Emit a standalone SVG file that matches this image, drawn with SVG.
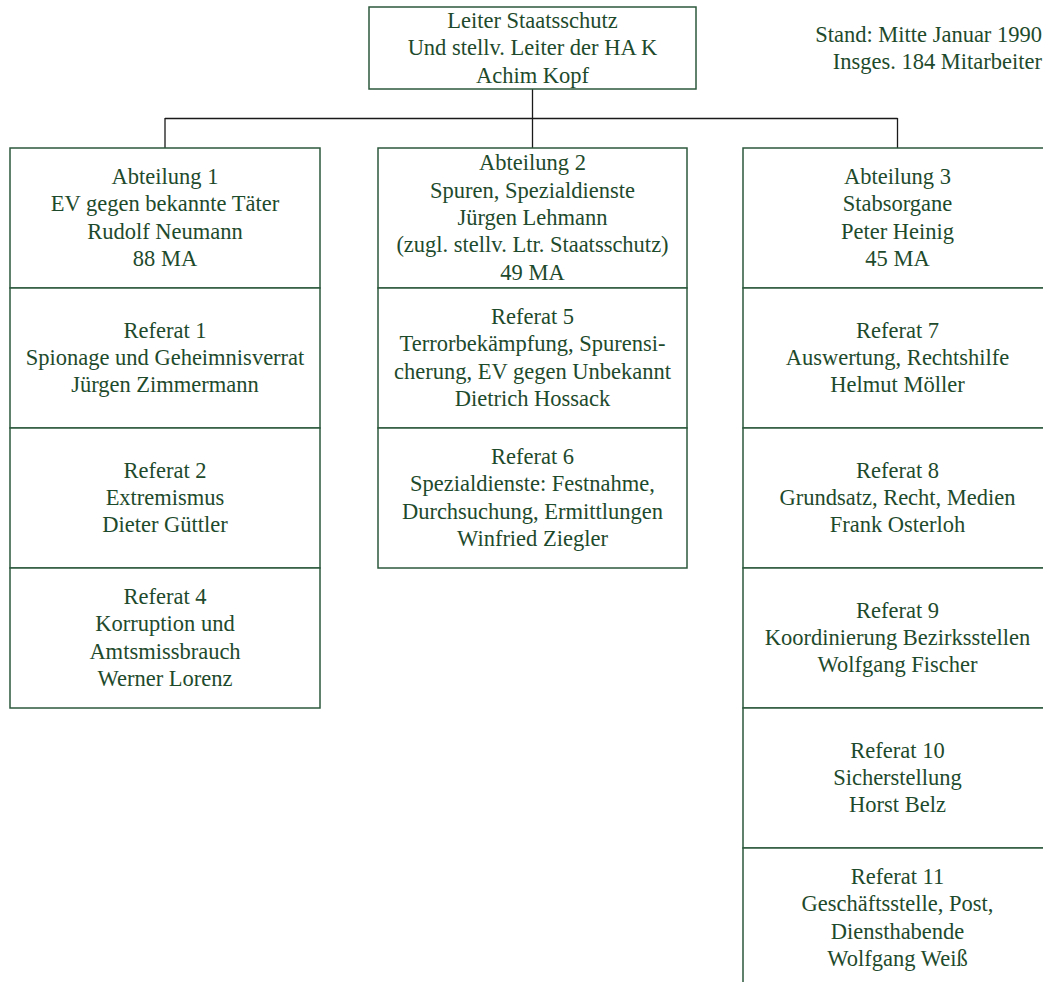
<svg xmlns="http://www.w3.org/2000/svg" width="1043" height="982" viewBox="0 0 1043 982">
<style>
rect.box{fill:#ffffff;stroke:#2d5a3c;stroke-width:1.5}
text{font-family:"Liberation Serif","Times New Roman",serif;font-size:22.5px;fill:#1e4a2c;text-anchor:middle}
text.note{text-anchor:end}
.conn{fill:none;stroke:#1a1a1a;stroke-width:1.3}
</style>
<rect x="0" y="0" width="1043" height="982" fill="#ffffff"/>
<g id="connectors">
<path class="conn" d="M532.5 89V148M165 118.5H897.5M165 118V148M897.5 118V148"/>
</g>
<g id="leiter">
<rect class="box" x="369" y="7" width="327" height="82"/>
<text x="532.5" y="27.5">Leiter Staatsschutz</text>
<text x="532.5" y="55">Und stellv. Leiter der HA K</text>
<text x="532.5" y="82.5">Achim Kopf</text>
</g>
<g id="stand">
<text class="note" x="1042" y="41.5">Stand: Mitte Januar 1990</text>
<text class="note" x="1042" y="69">Insges. 184 Mitarbeiter</text>
</g>
<g id="abt1">
<rect class="box" x="10" y="148" width="310" height="140"/>
<text x="165" y="184">Abteilung 1</text>
<text x="165" y="211.3">EV gegen bekannte Täter</text>
<text x="165" y="238.6">Rudolf Neumann</text>
<text x="165" y="265.9">88 MA</text>
</g>
<g id="ref1">
<rect class="box" x="10" y="288" width="310" height="140"/>
<text x="165" y="337.7">Referat 1</text>
<text x="165" y="365">Spionage und Geheimnisverrat</text>
<text x="165" y="392.3">Jürgen Zimmermann</text>
</g>
<g id="ref2">
<rect class="box" x="10" y="428" width="310" height="140"/>
<text x="165" y="477.7">Referat 2</text>
<text x="165" y="505">Extremismus</text>
<text x="165" y="532.3">Dieter Güttler</text>
</g>
<g id="ref4">
<rect class="box" x="10" y="568" width="310" height="140"/>
<text x="165" y="604">Referat 4</text>
<text x="165" y="631.3">Korruption und</text>
<text x="165" y="658.6">Amtsmissbrauch</text>
<text x="165" y="685.9">Werner Lorenz</text>
</g>
<g id="abt2">
<rect class="box" x="378" y="148" width="309" height="140"/>
<text x="532.5" y="170.4">Abteilung 2</text>
<text x="532.5" y="197.7">Spuren, Spezialdienste</text>
<text x="532.5" y="225">Jürgen Lehmann</text>
<text x="532.5" y="252.3">(zugl. stellv. Ltr. Staatsschutz)</text>
<text x="532.5" y="279.6">49 MA</text>
</g>
<g id="ref5">
<rect class="box" x="378" y="288" width="309" height="140"/>
<text x="532.5" y="324">Referat 5</text>
<text x="532.5" y="351.3">Terrorbekämpfung, Spurensi-</text>
<text x="532.5" y="378.6">cherung, EV gegen Unbekannt</text>
<text x="532.5" y="405.9">Dietrich Hossack</text>
</g>
<g id="ref6">
<rect class="box" x="378" y="428" width="309" height="140"/>
<text x="532.5" y="464">Referat 6</text>
<text x="532.5" y="491.3">Spezialdienste: Festnahme,</text>
<text x="532.5" y="518.6">Durchsuchung, Ermittlungen</text>
<text x="532.5" y="545.9">Winfried Ziegler</text>
</g>
<g id="abt3">
<rect class="box" x="743" y="148" width="309" height="140"/>
<text x="897.5" y="184">Abteilung 3</text>
<text x="897.5" y="211.3">Stabsorgane</text>
<text x="897.5" y="238.6">Peter Heinig</text>
<text x="897.5" y="265.9">45 MA</text>
</g>
<g id="ref7">
<rect class="box" x="743" y="288" width="309" height="140"/>
<text x="897.5" y="337.7">Referat 7</text>
<text x="897.5" y="365">Auswertung, Rechtshilfe</text>
<text x="897.5" y="392.3">Helmut Möller</text>
</g>
<g id="ref8">
<rect class="box" x="743" y="428" width="309" height="140"/>
<text x="897.5" y="477.7">Referat 8</text>
<text x="897.5" y="505">Grundsatz, Recht, Medien</text>
<text x="897.5" y="532.3">Frank Osterloh</text>
</g>
<g id="ref9">
<rect class="box" x="743" y="568" width="309" height="140"/>
<text x="897.5" y="617.7">Referat 9</text>
<text x="897.5" y="645">Koordinierung Bezirksstellen</text>
<text x="897.5" y="672.3">Wolfgang Fischer</text>
</g>
<g id="ref10">
<rect class="box" x="743" y="708" width="309" height="140"/>
<text x="897.5" y="757.7">Referat 10</text>
<text x="897.5" y="785">Sicherstellung</text>
<text x="897.5" y="812.3">Horst Belz</text>
</g>
<g id="ref11">
<rect class="box" x="743" y="848" width="309" height="140"/>
<text x="897.5" y="884">Referat 11</text>
<text x="897.5" y="911.3">Geschäftsstelle, Post,</text>
<text x="897.5" y="938.6">Diensthabende</text>
<text x="897.5" y="965.9">Wolfgang Weiß</text>
</g>
</svg>
